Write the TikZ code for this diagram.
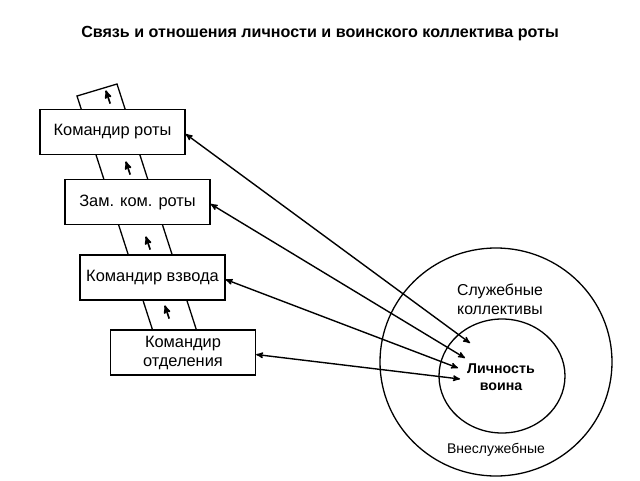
\documentclass[tikz,border=0pt]{standalone}
\usepackage{fontspec}
\setmainfont{Liberation Sans}
\usetikzlibrary{arrows}
\begin{document}
\begin{tikzpicture}[x=1pt, y=-1pt, line width=1.3pt,
 rank/.style={draw, fill=white, minimum width=145pt, minimum height=45pt, inner sep=0, align=center, font=\fontsize{16.4}{19}\selectfont},
 txt/.style={align=center, font=\fontsize{15.8}{19}\selectfont}]
\useasboundingbox (0,0) rectangle (640,480);
\node[font=\bfseries\fontsize{16.1}{19}\selectfont] (title) at (320,34) {Связь и отношения личности и воинского коллектива роты};
\draw[fill=white] (77,96) -- (117,84) -- (200,341) -- (160,353) -- cycle;
\foreach \x/\y in {108/97,128/168,148/243,167/312} {
 \draw[->, >=stealth', line width=1.7pt] (\x+2.2,\y+6.6) -- (\x-2.2,\y-6.6);
}
\node[rank] (b1) at (112.5,132) {Командир роты};
\node[rank] (b2) at (137.5,202) {Зам. ком. роты};
\node[rank] (b3) at (152.5,277.5) {Командир взвода};
\node[rank] (b4) at (183,352.5) {Командир\\отделения};
\draw (496,362) ellipse (116pt and 114pt);
\draw (502,376) ellipse (63pt and 57pt);
\node[txt] (sl) at (500,299) {Служебные\\коллективы};
\node[txt, font=\bfseries\fontsize{14.2}{16.5}\selectfont] (li) at (501,377) {Личность\\воина};
\node[txt, font=\fontsize{14}{17}\selectfont] (vn) at (496,450) {Внеслужебные};
\coordinate (p1) at (470,343);
\coordinate (p2) at (465,358);
\coordinate (p3) at (458,368);
\coordinate (p4) at (460,379);
\foreach \i in {1,...,4} {
 \draw[<->, >=stealth', line width=1.4pt] ([yshift=-2pt]b\i.east) -- (p\i);
}
\end{tikzpicture}
\end{document}
